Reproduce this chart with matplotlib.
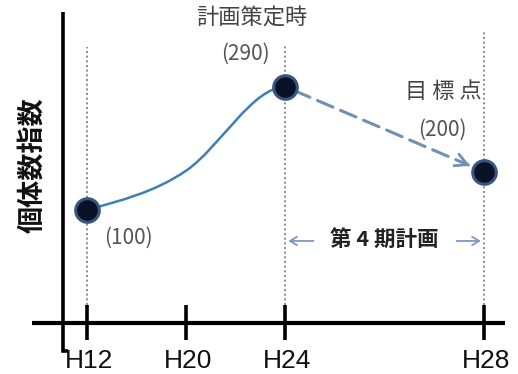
import numpy as np
import matplotlib
matplotlib.use('Agg')
import matplotlib.pyplot as plt
from matplotlib.path import Path
from matplotlib.patches import PathPatch

# ---------------- data (schematic index chart) ----------------
periods = ['H12', 'H20', 'H24', 'H28']
period_pos = [0, 1, 2, 4]

# drawn levels of the observed trend (H12 -> H20 -> H24) and its slopes
trend_pos = [0, 1, 2]
trend_level = [100, 135, 209]
trend_slope = [26, 60, 0]

# highlighted points: H12, H24 (plan time), H28 (target)
point_pos = [0, 2, 4]
point_level = [100, 209, 134]
point_labels = ['(100)', '(290)', '(200)']
point_titles = ['', '計画策定時', '目 標 点']

band_label = '第 4 期計画'
ylabel = '個体数指数'

CJK = ['Noto Sans CJK JP', 'DejaVu Sans']
LAT = ['Liberation Sans', 'DejaVu Sans']

fig = plt.figure(figsize=(5.18, 3.74), dpi=100)
ax = fig.add_axes([0, 0, 1, 1])
ax.set_xlim(-0.882, 4.347)
ax.set_ylim(-45.13, 285.84)
ax.axis('off')

# ---------------- axes drawn as lines ----------------
ax.plot([-0.56, 4.216], [0, 0], color='black', lw=3.0, solid_capstyle='butt', zorder=3)
ax.plot([-0.246, -0.246, -0.196], [275, -24.8, -24.8], color='black', lw=2.6,
        solid_capstyle='butt', solid_joinstyle='miter', zorder=3)
ax.vlines(period_pos, -15, 15.9, color='black', lw=2.6, zorder=3)
for p, lab in zip(period_pos, periods):
    ax.text(p + 0.02, -44.3, lab, ha='center', va='bottom', fontsize=19,
            family=LAT, color='#111111')

# dotted guide lines
guide_top = [244, 246, 259]
for p, top in zip(point_pos, guide_top):
    ax.plot([p, p], [15.9, top], color='#7a7a7a', lw=1.2, ls=(0, (1.2, 1.6)), zorder=1)

# ---------------- smooth trend curve (Bezier through data) ----------------
verts, codes = [], []
for i in range(len(trend_pos) - 1):
    x0, x1 = trend_pos[i], trend_pos[i + 1]
    y0, y1 = trend_level[i], trend_level[i + 1]
    m0, m1 = trend_slope[i], trend_slope[i + 1]
    d = (x1 - x0) / 3.0
    if i == 0:
        verts.append((x0, y0)); codes.append(Path.MOVETO)
    verts += [(x0 + d, y0 + m0 * d), (x1 - d, y1 - m1 * d), (x1, y1)]
    codes += [Path.CURVE4] * 3
ax.add_patch(PathPatch(Path(verts, codes), fill=False, edgecolor='#3f7fb8', lw=1.8, zorder=4))

# dashed projection arrow H24 -> H28
p24 = (point_pos[1], point_level[1])
p28 = (point_pos[2], point_level[2])
ax.annotate('', xy=p28, xytext=p24,
            arrowprops=dict(arrowstyle='-', linestyle=(0, (5.5, 2.7)), lw=2.2,
                            color='#7090b5', shrinkA=7, shrinkB=12))
t = 0.9
near = (p24[0] + t * (p28[0] - p24[0]), p24[1] + t * (p28[1] - p24[1]))
ax.annotate('', xy=p28, xytext=near,
            arrowprops=dict(arrowstyle='->,head_length=0.85,head_width=0.45', lw=2.0,
                            color='#7090b5', shrinkA=0, shrinkB=10.6))

# markers
ax.plot(point_pos, point_level, ls='none', marker='o', ms=17, mfc='#0b1126',
        mec='#3a5580', mew=2.2, zorder=6)

# point labels (offsets in pixels)
label_off = [(41, -28), (-40, 33), (-41, 42)]
title_off = [(0, 0), (-34, 69), (-40, 80)]
for p, lv, lab, ttl, lo, to in zip(point_pos, point_level, point_labels, point_titles,
                                   label_off, title_off):
    ax.annotate(lab, xy=(p, lv), xytext=lo, textcoords='offset pixels', ha='center',
                va='center', fontsize=15, family=CJK, color='#555555')
    if ttl:
        ax.annotate(ttl, xy=(p, lv), xytext=to, textcoords='offset pixels', ha='center',
                    va='center', fontsize=16, family=CJK, color='#444444')

# plan period band
band_level = 72.6
ax.text((period_pos[2] + period_pos[3]) / 2, band_level + 1, band_label, ha='center',
        va='center', fontsize=15.5, family=CJK, fontweight='bold', color='#222222')
ax.annotate('', xy=(period_pos[2], band_level), xytext=(28, 0), textcoords='offset pixels',
            arrowprops=dict(arrowstyle='->,head_length=0.5,head_width=0.3', lw=1.3,
                            color='#8098c4', shrinkA=0, shrinkB=2))
ax.annotate('', xy=(period_pos[3], band_level), xytext=(-27, 0), textcoords='offset pixels',
            arrowprops=dict(arrowstyle='->,head_length=0.5,head_width=0.3', lw=1.3,
                            color='#8098c4', shrinkA=0, shrinkB=2))

# y label
ax.text(-0.559, 139.8, ylabel, rotation=90, ha='center', va='center', fontsize=19.5,
        family=CJK, fontweight='bold', color='#111111')

fig.savefig('out.png', dpi=100)
